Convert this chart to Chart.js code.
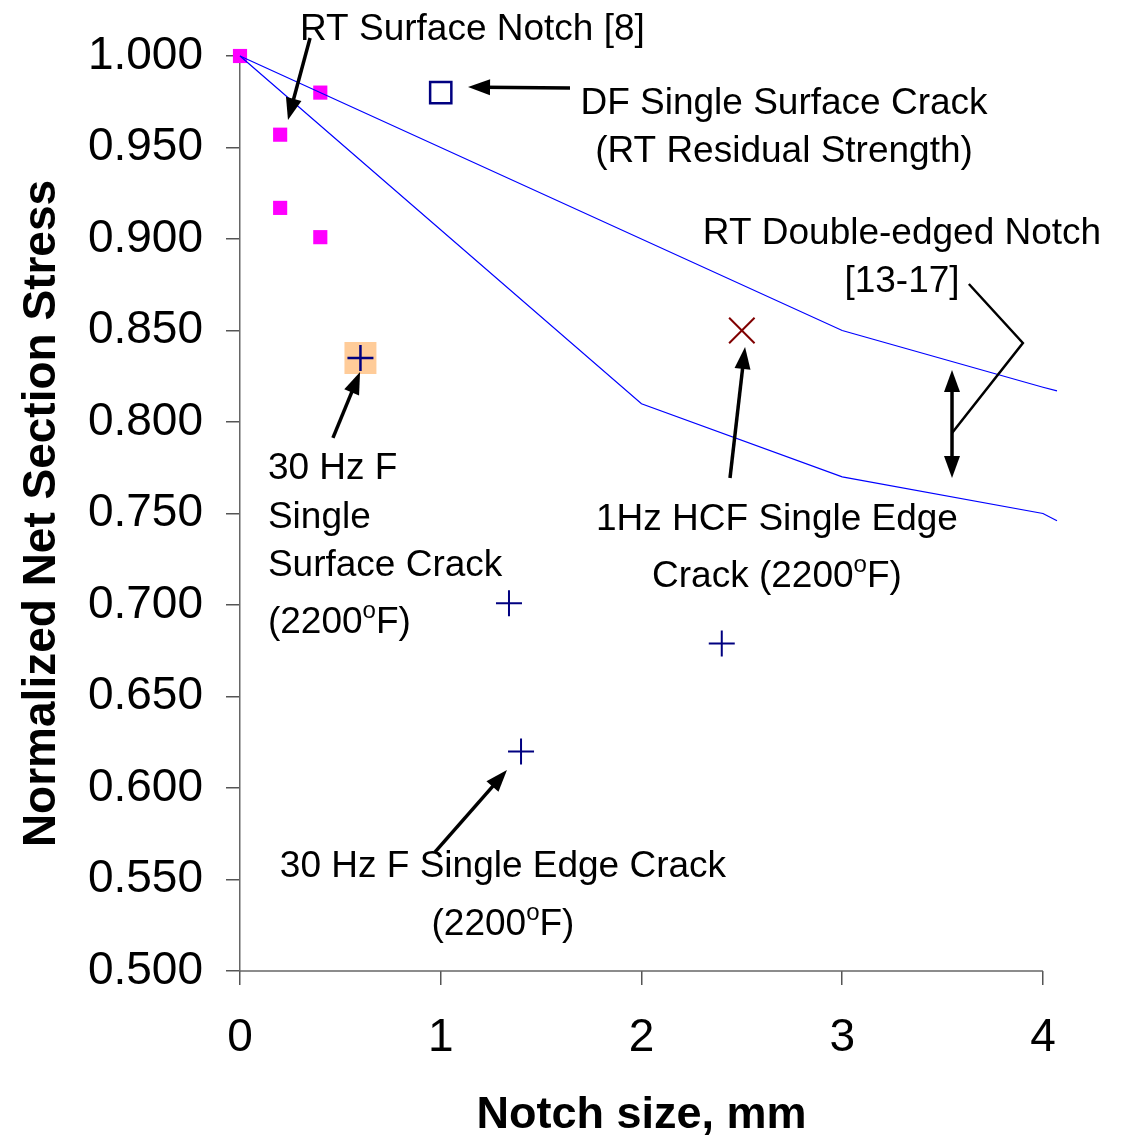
<!DOCTYPE html>
<html>
<head>
<meta charset="utf-8">
<script src="https://cdn.jsdelivr.net/npm/chart.js@4/dist/chart.umd.min.js"></script>
<style>
  body { margin: 0; background: #fff; }
  #wrap { width: 1125px; height: 1136px; }
</style>
</head>
<body>
<div id="wrap"><canvas id="notchChart"></canvas></div>
<script>
// band lines (RT double-edged notch)
var upperX = [0, 3, 4, 4.07];
var upperY = [1.0, 0.85, 0.819, 0.817];
var lowerX = [0, 2, 3, 4, 4.07];
var lowerY = [1.0, 0.81, 0.77, 0.75, 0.746];

// RT surface notch [8]
var surfNotchX = [0, 0.2, 0.2, 0.4, 0.4];
var surfNotchY = [1.0, 0.957, 0.917, 0.980, 0.901];

// DF single surface crack (RT residual strength)
var dfX = [1.0];
var dfY = [0.980];

// 30 Hz F single surface crack (2200F)
var surfCrackX = [0.6];
var surfCrackY = [0.835];

// 30 Hz F single edge crack (2200F)
var edgeCrackX = [1.34, 1.40, 2.40];
var edgeCrackY = [0.701, 0.620, 0.679];

// 1Hz HCF single edge crack (2200F)
var hcfX = [2.5];
var hcfY = [0.850];

var xTicks = [0, 1, 2, 3, 4];
var yTicks = [0.5, 0.55, 0.6, 0.65, 0.7, 0.75, 0.8, 0.85, 0.9, 0.95, 1.0];
var xAxisEnd = 4;
var xTitle = 'Notch size, mm';

function pts(xs, ys) {
    return xs.map(function(x, i) { return {x: x, y: ys[i]}; });
}

var FONT = '"Liberation Sans", Arial, sans-serif';

// text notes, positions in data units
var notes = [
    {lines: ['RT Surface Notch [8]'], x: 0.299, y: 1.0158, align: 'left'},
    {lines: ['DF Single Surface Crack', '(RT Residual Strength)'], x: 2.71, y: 0.9754, align: 'center'},
    {lines: ['RT Double-edged Notch', '[13-17]'], x: 3.298, y: 0.9044, align: 'center'},
    {lines: ['1Hz HCF Single Edge', 'Crack (2200^oF)'], x: 2.675, y: 0.7481, align: 'center', gap: 0.0312},
    {lines: ['30 Hz F', 'Single', 'Surface Crack', '(2200^oF)'], x: 0.139, y: 0.776, align: 'left', gaps: [0.0268, 0.0262, 0.0312]},
    {lines: ['30 Hz F Single Edge Crack', '(2200^oF)'], x: 1.310, y: 0.5585, align: 'center', gap: 0.0317}
];

var arrows = [
    {from: [0.349, 1.0098], to: [0.239, 0.965]},
    {from: [1.644, 0.9825], to: [1.136, 0.983]},
    {from: [2.441, 0.7694], to: [2.516, 0.841]},
    {from: [0.463, 0.7913], to: [0.598, 0.8273]},
    {from: [0.971, 0.565], to: [1.330, 0.6098]}
];
var dblArrow = {from: [3.547, 0.8284], to: [3.547, 0.7694]};
var bracket = [[3.631, 0.8754], [3.900, 0.8432], [3.547, 0.794]];

function head(ctx, x1, y1, x2, y2) {
    var a = Math.atan2(y2 - y1, x2 - x1);
    var len = 22, hw = 8;
    ctx.beginPath();
    ctx.moveTo(x2, y2);
    ctx.lineTo(x2 - len * Math.cos(a) + hw * Math.sin(a), y2 - len * Math.sin(a) - hw * Math.cos(a));
    ctx.lineTo(x2 - len * Math.cos(a) - hw * Math.sin(a), y2 - len * Math.sin(a) + hw * Math.cos(a));
    ctx.closePath();
    ctx.fill();
}

function shaft(ctx, x1, y1, x2, y2, cutEnd, cutStart) {
    var a = Math.atan2(y2 - y1, x2 - x1);
    ctx.beginPath();
    ctx.moveTo(x1 + cutStart * Math.cos(a), y1 + cutStart * Math.sin(a));
    ctx.lineTo(x2 - cutEnd * Math.cos(a), y2 - cutEnd * Math.sin(a));
    ctx.stroke();
}

function richText(ctx, text, x, y, align) {
    var parts = text.split('^');
    var segs = [{t: parts[0], sup: false}];
    for (var i = 1; i < parts.length; i++) {
        segs.push({t: parts[i].charAt(0), sup: true});
        segs.push({t: parts[i].slice(1), sup: false});
    }
    var big = '37px ' + FONT, small = '24px ' + FONT;
    var w = 0;
    segs.forEach(function(s) {
        ctx.font = s.sup ? small : big;
        s.w = ctx.measureText(s.t).width;
        w += s.w;
    });
    var cx = align === 'center' ? x - w / 2 : x;
    y += 3;
    ctx.textAlign = 'left';
    ctx.textBaseline = 'middle';
    segs.forEach(function(s) {
        ctx.font = s.sup ? small : big;
        ctx.fillText(s.t, cx, s.sup ? y - 12 : y);
        cx += s.w;
    });
}

// x axis line and title only span 0..4, the band lines run a bit past it
var axisLine = {
    id: 'axisLine',
    beforeDatasetsDraw: function(chart) {
        var ctx = chart.ctx, xs = chart.scales.x, ys = chart.scales.y;
        var y0 = ys.getPixelForValue(ys.min);
        var x0 = xs.getPixelForValue(0), x1 = xs.getPixelForValue(xAxisEnd);
        ctx.save();
        ctx.strokeStyle = '#666';
        ctx.lineWidth = 1.5;
        ctx.beginPath();
        ctx.moveTo(x0, y0);
        ctx.lineTo(x1, y0);
        ctx.stroke();
        ctx.fillStyle = '#000';
        ctx.font = 'bold 45px ' + FONT;
        ctx.textAlign = 'center';
        ctx.textBaseline = 'middle';
        ctx.fillText(xTitle, (x0 + x1) / 2, xs.bottom - 20);
        ctx.restore();
    }
};

var notesPlugin = {
    id: 'notes',
    afterDatasetsDraw: function(chart) {
        var ctx = chart.ctx;
        var xs = chart.scales.x, ys = chart.scales.y;
        function P(p) { return [xs.getPixelForValue(p[0]), ys.getPixelForValue(p[1])]; }
        ctx.save();
        ctx.fillStyle = '#000';
        ctx.strokeStyle = '#000';

        notes.forEach(function(n) {
            var yv = n.y;
            n.lines.forEach(function(line, i) {
                if (i > 0) yv -= n.gaps ? n.gaps[i - 1] : (n.gap || 0.0262);
                richText(ctx, line, xs.getPixelForValue(n.x), ys.getPixelForValue(yv), n.align);
            });
        });

        ctx.lineWidth = 3.5;
        arrows.forEach(function(a) {
            var f = P(a.from), t = P(a.to);
            shaft(ctx, f[0], f[1], t[0], t[1], 15, 0);
            head(ctx, f[0], f[1], t[0], t[1]);
        });

        var f = P(dblArrow.from), t = P(dblArrow.to);
        shaft(ctx, f[0], f[1], t[0], t[1], 15, 15);
        head(ctx, f[0], f[1], t[0], t[1]);
        head(ctx, t[0], t[1], f[0], f[1]);

        ctx.lineWidth = 2.5;
        ctx.beginPath();
        bracket.forEach(function(p, i) {
            var q = P(p);
            if (i === 0) ctx.moveTo(q[0], q[1]); else ctx.lineTo(q[0], q[1]);
        });
        ctx.stroke();
        ctx.restore();
    }
};

var chart = new Chart(document.getElementById('notchChart').getContext('2d'), {
    type: 'scatter',
    data: {
        datasets: [
            {
                label: 'RT Double-edged Notch upper',
                data: pts(upperX, upperY),
                showLine: true,
                borderColor: '#0000FF',
                borderWidth: 1.2,
                pointRadius: 0,
                clip: false
            },
            {
                label: 'RT Double-edged Notch lower',
                data: pts(lowerX, lowerY),
                showLine: true,
                borderColor: '#0000FF',
                borderWidth: 1.2,
                pointRadius: 0,
                clip: false
            },
            {
                label: 'RT Surface Notch [8]',
                data: pts(surfNotchX, surfNotchY),
                pointStyle: 'rect',
                pointRadius: 10,
                backgroundColor: '#FF00FF',
                borderColor: '#FF00FF',
                borderWidth: 0,
                clip: false
            },
            {
                label: 'DF Single Surface Crack',
                data: pts(dfX, dfY),
                pointStyle: 'rect',
                pointRadius: 15,
                backgroundColor: 'rgba(0,0,0,0)',
                borderColor: '#000080',
                borderWidth: 2.5,
                clip: false
            },
            {
                label: '30 Hz F Single Surface Crack',
                data: pts(surfCrackX, surfCrackY),
                pointStyle: 'cross',
                pointRadius: 13,
                borderColor: '#000080',
                borderWidth: 2.5,
                clip: false
            },
            {
                label: '30 Hz F Single Edge Crack',
                data: pts(edgeCrackX, edgeCrackY),
                pointStyle: 'cross',
                pointRadius: 13,
                borderColor: '#000080',
                borderWidth: 2,
                clip: false
            },
            {
                label: '1Hz HCF Single Edge Crack',
                data: pts(hcfX, hcfY),
                pointStyle: 'crossRot',
                pointRadius: 18,
                borderColor: '#800000',
                borderWidth: 2,
                clip: false
            },
            {
                label: 'highlight',
                data: pts(surfCrackX, surfCrackY),
                pointStyle: 'rect',
                pointRadius: 22.6,
                backgroundColor: '#FFCC99',
                borderWidth: 0,
                clip: false
            }
        ]
    },
    options: {
        responsive: true,
        maintainAspectRatio: false,
        animation: false,
        events: [],
        layout: { padding: { top: 56, right: 68, left: 0, bottom: 0 } },
        plugins: {
            legend: { display: false },
            tooltip: { enabled: false }
        },
        scales: {
            x: {
                type: 'linear',
                min: 0,
                max: 4.07,
                afterFit: function(s) { s.height = 165; },
                afterBuildTicks: function(s) { s.ticks = xTicks.map(function(v) { return {value: v}; }); },
                grid: { drawOnChartArea: false, tickLength: 14, color: '#555', lineWidth: 1.5 },
                border: { display: false },
                ticks: { color: '#000', font: { size: 46, family: FONT }, padding: 26, maxRotation: 0 },
                title: { display: false }
            },
            y: {
                type: 'linear',
                min: 0.5,
                max: 1.0,
                afterFit: function(s) { s.width = 240; },
                afterBuildTicks: function(s) { s.ticks = yTicks.map(function(v) { return {value: v}; }); },
                grid: { drawOnChartArea: false, tickLength: 14, color: '#555', lineWidth: 1.5 },
                border: { color: '#666', width: 1.5 },
                ticks: {
                    color: '#000',
                    font: { size: 46, family: FONT },
                    padding: 23,
                    callback: function(v) { return Number(v).toFixed(3); }
                },
                title: {
                    display: true,
                    text: 'Normalized Net Section Stress',
                    color: '#000',
                    font: { size: 46, weight: 'bold', family: FONT, lineHeight: 1.0 },
                    padding: { top: 19, bottom: 0 }
                }
            }
        }
    },
    plugins: [axisLine, notesPlugin]
});
</script>
</body>
</html>
